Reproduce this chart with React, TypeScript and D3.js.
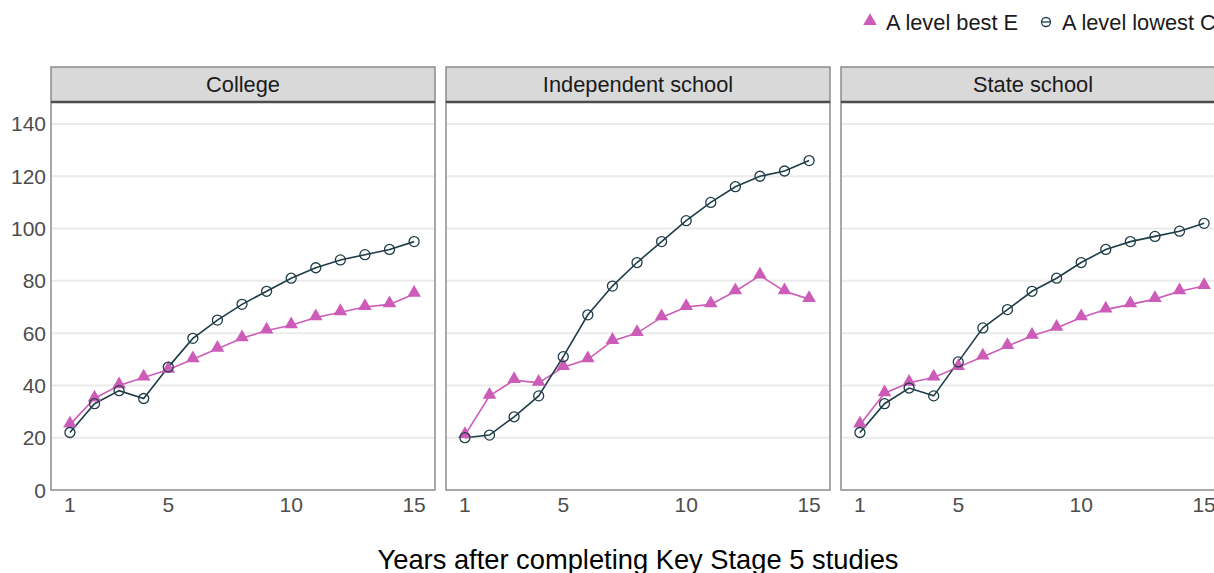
import React from "react";
import * as d3 from "d3";

const years = [1, 2, 3, 4, 5, 6, 7, 8, 9, 10, 11, 12, 13, 14, 15];
const panels = ["College", "Independent school", "State school"];
const bestE_College = [25, 35, 40, 43, 46, 50, 54, 58, 61, 63, 66, 68, 70, 71, 75];
const lowestC_College = [22, 33, 38, 35, 47, 58, 65, 71, 76, 81, 85, 88, 90, 92, 95];
const bestE_Independent = [21, 36, 42, 41, 47, 50, 57, 60, 66, 70, 71, 76, 82, 76, 73];
const lowestC_Independent = [20, 21, 28, 36, 51, 67, 78, 87, 95, 103, 110, 116, 120, 122, 126];
const bestE_State = [25, 37, 41, 43, 47, 51, 55, 59, 62, 66, 69, 71, 73, 76, 78];
const lowestC_State = [22, 33, 39, 36, 49, 62, 69, 76, 81, 87, 92, 95, 97, 99, 102];
const yTicks = [0, 20, 40, 60, 80, 100, 120, 140];
const xTicks = [1, 5, 10, 15];
const seriesNames = ["A level best E", "A level lowest C"];

const bestE = [bestE_College, bestE_Independent, bestE_State];
const lowestC = [lowestC_College, lowestC_Independent, lowestC_State];

const PINK = "#cc5cb8";
const DARK = "#1e3d48";
const FONT = "'Liberation Sans', Arial, sans-serif";

export default function App() {
  const W = 1214, H = 573;
  const panelLefts = [51, 446, 841];
  const panelW = 384;
  const stripTop = 67, plotTop = 102, plotBottom = 490;
  const y = d3.scaleLinear().domain([0, 148.4]).range([plotBottom, plotTop]);
  const line = (xs: d3.ScaleLinear<number, number>) =>
    d3.line<number>().x((_, i) => xs(years[i])).y((d) => y(d));
  const tri = d3.symbol().type(d3.symbolTriangle).size(80)();

  return (
    <svg width={W} height={H} style={{ position: "fixed", left: 0, top: 0, background: "#fff" }} fontFamily={FONT}>
      {/* legend */}
      <g>
        <path d={tri as string} transform="translate(870,21)" fill={PINK} />
        <text x={886} y={30} fontSize={21.8} fill="#1a1a1a">{seriesNames[0]}</text>
        <circle cx={1046} cy={22} r={4.5} fill="none" stroke={DARK} strokeWidth={1.3} />
        <line x1={1042} x2={1050} y1={22} y2={22} stroke={DARK} strokeWidth={1.3} />
        <text x={1062} y={30} fontSize={21.8} fill="#1a1a1a">{seriesNames[1]}</text>
      </g>
      {/* y axis labels */}
      {yTicks.map((t) => (
        <text key={t} x={46} y={y(t) + 7.5} fontSize={21} fill="#4d4d4d" textAnchor="end">{t}</text>
      ))}
      {panels.map((p, pi) => {
        const left = panelLefts[pi];
        const xs = d3.scaleLinear().domain([0.23, 15.85]).range([left, left + panelW]);
        return (
          <g key={p}>
            <rect x={left} y={stripTop} width={panelW} height={plotTop - stripTop} fill="#d9d9d9" stroke="#8c8c8c" strokeWidth={1.5} />
            <text x={left + panelW / 2} y={92} fontSize={21.8} fill="#1a1a1a" textAnchor="middle">{p}</text>
            {yTicks.filter((t) => t > 0).map((t) => (
              <line key={t} x1={left} x2={left + panelW} y1={y(t)} y2={y(t)} stroke="#ebebeb" strokeWidth={2} />
            ))}
            <rect x={left} y={plotTop} width={panelW} height={plotBottom - plotTop} fill="none" stroke="#8c8c8c" strokeWidth={1.5} />
            <line x1={left} x2={left + panelW} y1={plotTop} y2={plotTop} stroke="#4d4d4d" strokeWidth={2.5} />
            {xTicks.map((t) => (
              <text key={t} x={xs(t)} y={512} fontSize={21} fill="#4d4d4d" textAnchor="middle">{t}</text>
            ))}
            <path d={line(xs)(bestE[pi]) as string} fill="none" stroke={PINK} strokeWidth={1.6} />
            <path d={line(xs)(lowestC[pi]) as string} fill="none" stroke={DARK} strokeWidth={1.6} />
            {bestE[pi].map((v, i) => (
              <path key={"t" + i} d={tri as string} transform={`translate(${xs(years[i])},${y(v) - 1})`} fill={PINK} />
            ))}
            {lowestC[pi].map((v, i) => (
              <circle key={"c" + i} cx={xs(years[i])} cy={y(v)} r={5} fill="none" stroke={DARK} strokeWidth={1.3} />
            ))}
          </g>
        );
      })}
      <text x={638} y={569} fontSize={27.3} fill="#000" textAnchor="middle">Years after completing Key Stage 5 studies</text>
    </svg>
  );
}
